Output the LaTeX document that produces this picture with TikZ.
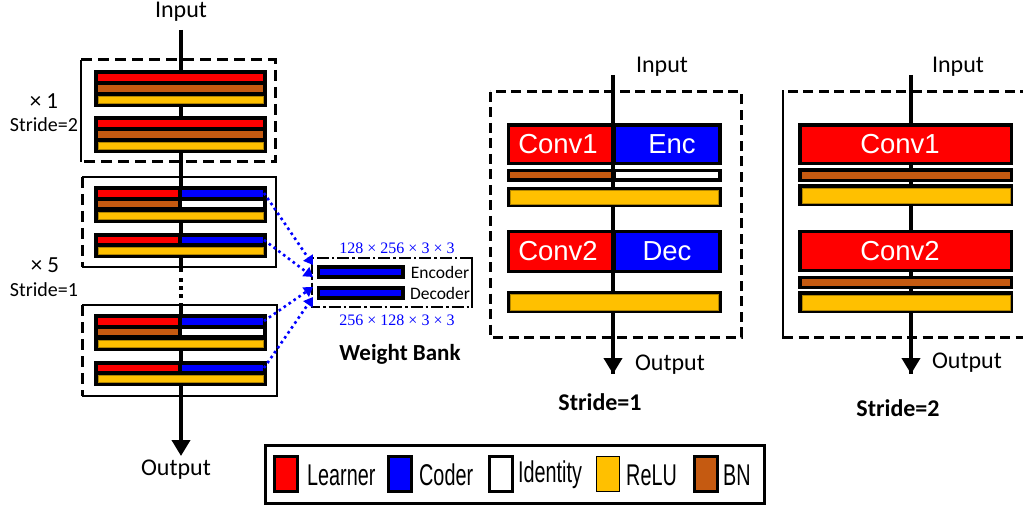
\documentclass[tikz,border=0pt]{standalone}
\usepackage{fontspec}
\setmainfont{Carlito}
\newfontfamily\arialf{Liberation Sans}
\newfontfamily\dimf{Liberation Serif}
\usetikzlibrary{arrows.meta}
\definecolor{lrnred}{HTML}{FF0000}
\definecolor{codblue}{HTML}{0000FF}
\definecolor{reluyel}{HTML}{FFC000}
\definecolor{bnbrown}{HTML}{C55A11}
\tikzset{
  lbl/.style={font=\fontsize{24}{28}\selectfont, inner sep=0pt},
  sidelbl/.style={font=\fontsize{20}{24}\selectfont, inner sep=0pt},
  replbl/.style={font=\fontsize{23}{26}\selectfont, inner sep=0pt},
  ttl/.style={font=\bfseries\fontsize{24}{28}\selectfont, inner sep=0pt},
  convtxt/.style={font=\arialf\fontsize{27.5}{32}\selectfont, text=white, inner sep=0pt},
  legtxt/.style={font=\arialf\fontsize{30}{34}\selectfont, inner sep=0pt, anchor=west},
  dimtxt/.style={font=\dimf\fontsize{16}{19}\selectfont, text=codblue, inner sep=0pt},
  banktxt/.style={font=\fontsize{17.5}{20}\selectfont, inner sep=0pt},
  flow/.style={line width=3.8pt},
  dashedge/.style={line width=3pt, dash pattern=on 11pt off 6pt},
  solidedge/.style={line width=2.5pt},
  lrn/.style={fill=lrnred},
  cod/.style={fill=codblue},
  idn/.style={fill=white},
  relu/.style={fill=reluyel, draw=reluyel!70!black, line width=0.5pt},
  bn/.style={fill=bnbrown},
  link/.style={codblue, line width=2.6pt, dash pattern=on 2.6pt off 3.4pt,
    -{Triangle[length=9pt,width=11pt]}},
  tip/.style={-{Triangle[length=16pt,width=18pt]}},
}
\begin{document}
\begin{tikzpicture}[x=1pt,y=-1pt]
\useasboundingbox (0,0) rectangle (1023,505);

% ================= stacked network (left) =================
\node[lbl] (inL) at (181,12) {Input};
\node[lbl] (outL) at (176,470) {Output};
\coordinate (lTop) at (181,30);
\coordinate (lGapA) at (181,272);
\coordinate (lGapB) at (181,303);
\coordinate (lEnd) at (181,456);

% group frames
\draw[dashedge] (81,60) -- (275,60) -- (275,162) -- (81,162);
\draw[solidedge] (81,60) -- (81,162);
\draw[solidedge] (82,177) -- (276,177) -- (276,267) -- (82,267);
\draw[dashedge] (82,177) -- (82,267);
\draw[solidedge] (82,305) -- (277,305) -- (277,396) -- (82,396);
\draw[dashedge] (82,305) -- (82,396);

\node[replbl] (rep1) at (44,101) {× 1};
\node[sidelbl] (str1) at (44,125) {Stride=2};
\node[replbl] (rep5) at (45,265) {× 5};
\node[sidelbl] (str5) at (44,290) {Stride=1};

% main data path
\draw[flow] (lTop) -- (lGapA);
\draw[flow, tip] (lGapB) -- (lEnd);
\foreach \y in {280,288,296} \fill (179,\y-2) rectangle (183,\y+2);

% stride-2 blocks: conv / BN / ReLU
\foreach \T in {70,116} {
  \fill (94,\T) rectangle (267,\T+37);
  \fill[lrn] (98,\T+4) rectangle (263,\T+11);
  \fill[bn] (98,\T+15) rectangle (263,\T+22);
  \fill[relu] (98,\T+26) rectangle (263,\T+33);
}
% stride-1 blocks, first half: conv|enc, BN|id, ReLU
\foreach \T in {186,314} {
  \fill (94,\T) rectangle (267,\T+37);
  \fill[lrn] (98,\T+4) rectangle (178,\T+11);
  \fill[cod] (182,\T+4) rectangle (263,\T+11);
  \fill[bn] (98,\T+15) rectangle (178,\T+21);
  \fill[idn] (182,\T+15) rectangle (263,\T+21);
  \fill[relu] (98,\T+26) rectangle (263,\T+33);
}
% stride-1 blocks, second half: conv|dec, ReLU
\foreach \T in {233,361} {
  \fill (94,\T) rectangle (267,\T+25);
  \fill[lrn] (98,\T+4) rectangle (178,\T+10);
  \fill[cod] (182,\T+4) rectangle (263,\T+10);
  \fill[relu] (98,\T+14) rectangle (263,\T+21);
}
\coordinate (encA) at (264,193);
\coordinate (decA) at (264,240);
\coordinate (encB) at (264,321);
\coordinate (decB) at (264,368);

% ================= weight bank =================
\draw[line width=2.5pt, dash pattern=on 12pt off 3pt on 2.5pt off 3pt]
  (472,258) -- (312,258) -- (312,307) -- (472,307);
\draw[line width=2.5pt] (472,256.8) -- (472,308.2);
\fill (317,265) rectangle (405,279);
\fill[cod] (320,269) rectangle (401,275);
\fill (317,286) rectangle (405,300);
\fill[cod] (320,290) rectangle (401,296);
\node[banktxt] (encW) at (440,272) {Encoder};
\node[banktxt] (decW) at (440,293) {Decoder};
\node[dimtxt] (dimE) at (397,248) {128 × 256 × 3 × 3};
\node[dimtxt] (dimD) at (397,320) {256 × 128 × 3 × 3};
\node[ttl, font=\bfseries\fontsize{23}{27}\selectfont] (wb) at (400,354) {Weight Bank};
\coordinate (wE1) at (313,265);
\coordinate (wE2) at (313,277);
\coordinate (wD1) at (313,287);
\coordinate (wD2) at (313,297);
\draw[link] (encA) -- (wE1);
\draw[link] (decA) -- (wE2);
\draw[link] (encB) -- (wD1);
\draw[link] (decB) -- (wD2);

% ================= stride-1 cell (middle) =================
\node[lbl] (inM) at (662,67) {Input};
\node[lbl] (outM) at (670,365) {Output};
\node[ttl] (sM) at (600,402) {Stride=1};
\coordinate (mTop) at (613,75);
\coordinate (mEnd) at (613,374);
\draw[dashedge, dash pattern=on 10pt off 5.5pt] (490,92) rectangle (741,337);
\draw[flow] (mTop) -- (mEnd);
\draw[flow, tip] (613,330) -- (mEnd);
\fill (507,123) rectangle (722,165);
\fill[lrn] (510,127) rectangle (611,162);
\fill[cod] (616,127) rectangle (718,162);
\node[convtxt] (c1M) at (558,144) {Conv1};
\node[convtxt] (encM) at (672,144) {Enc};
\fill (507,169) rectangle (722,182);
\fill[bn] (510,172.5) rectangle (611,178.5);
\fill[idn] (616,172.5) rectangle (718,178.5);
\fill (507,187) rectangle (722,207);
\fill[relu] (510,190) rectangle (718,204);
\fill (507,230) rectangle (722,273);
\fill[lrn] (510,233) rectangle (611,270);
\fill[cod] (616,233) rectangle (718,270);
\node[convtxt] (c2M) at (558,251) {Conv2};
\node[convtxt] (decM) at (667,251) {Dec};
\fill (507,291) rectangle (722,313);
\fill[relu] (510,294) rectangle (718,310);

% ================= stride-2 cell (right) =================
\node[lbl] (inR) at (958,67) {Input};
\node[lbl] (outR) at (967,363) {Output};
\node[ttl] (sR) at (898,408) {Stride=2};
\coordinate (rTop) at (911,75);
\coordinate (rEnd) at (911,374);
\draw[dashedge, dash pattern=on 10pt off 5.5pt] (1030,92) -- (783,92);
\draw[dashedge, dash pattern=on 10pt off 5.5pt] (783,337) -- (1030,337);
\draw[solidedge] (783,90.5) -- (783,338.5);
\draw[flow] (rTop) -- (rEnd);
\draw[flow, tip] (911,330) -- (rEnd);
\fill (798,123) rectangle (1013,165);
\fill[lrn] (802,127) rectangle (1010,162);
\node[convtxt] (c1R) at (900,144) {Conv1};
\fill (798,168) rectangle (1013,182);
\fill[bn] (802,172) rectangle (1010,179);
\fill (798,184) rectangle (1013,206);
\fill[relu] (802,188) rectangle (1010,203);
\fill (798,230) rectangle (1013,272);
\fill[lrn] (802,233) rectangle (1010,269);
\node[convtxt] (c2R) at (900,251) {Conv2};
\fill (798,276) rectangle (1013,289);
\fill[bn] (802,279) rectangle (1010,286);
\fill (798,291) rectangle (1013,313);
\fill[relu] (802,295) rectangle (1010,310);

% ================= legend =================
\draw[line width=3pt] (265.5,445.5) rectangle (764.5,503);
\foreach \x/\st in {273/lrn, 387/cod, 488/idn, 595/relu, 693/bn} {
  \draw[line width=3pt, \st, draw=black] (\x+1.5,456.5) rectangle (\x+24.5,491.5);
}
\node[legtxt] (lgL) at (307,475) {\scalebox{0.66}[1]{Learner}};
\node[legtxt] (lgC) at (419,475) {\scalebox{0.66}[1]{Coder}};
\node[legtxt] (lgI) at (518,475) {\scalebox{0.66}[1]{Identity}};
\node[legtxt] (lgR) at (626,475) {\scalebox{0.66}[1]{ReLU}};
\node[legtxt] (lgB) at (723,475) {\scalebox{0.66}[1]{BN}};
\end{tikzpicture}
\end{document}
